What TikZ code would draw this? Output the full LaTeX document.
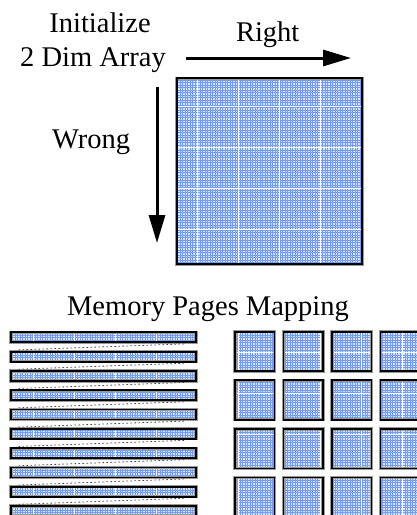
\documentclass[tikz,border=0pt]{standalone}
\usepackage{fontspec}
\newfontfamily\tnr{LiberationSerif}[Extension=.ttf, UprightFont=*-Regular]
\usetikzlibrary{arrows.meta,calc}
\definecolor{gridbg}{RGB}{212,226,252}
\definecolor{gridline}{RGB}{115,155,250}
\tikzset{
  frame/.style={draw=black, line width=1.8pt, inner sep=0pt, outer sep=0pt, anchor=north west,
    preaction={draw=black!40, line width=3.2pt}},
  finegrid/.style={gridline, line width=0.5pt},
  majorgrid/.style={white, line width=1pt},
  txt/.style={font=\tnr\fontsize{28.5}{34}\selectfont, inner sep=0pt, anchor=base},
  bigarrow/.style={line width=3pt, -{Triangle[length=28pt,width=16pt]}},
  link/.style={black!70, line width=0.8pt, dash pattern=on 1.6pt off 2.4pt}
}
% \gbox[major y step]{name}{x}{y}{w}{h}
\newcommand\gbox[6][41pt]{%
  \fill[gridbg] (#3,#4) rectangle ++(#5,#6);
  \begin{scope}
    \clip (#3,#4) rectangle ++(#5,#6);
    \draw[finegrid, step=2.5pt] (#3-3,#4-3) grid ($(#3,#4)+(#5+3,#6+3)$);
    \begin{scope}[shift={(33pt,17pt)}]
      \draw[majorgrid, xstep=41pt, ystep=#1] (#3-90,#4-90) grid ($(#3,#4)+(#5+90,#6+90)$);
    \end{scope}
  \end{scope}
  \node[frame, minimum width=#5pt, minimum height=#6pt] (#2) at (#3,#4) {};
}
\begin{document}
\begin{tikzpicture}[x=1pt,y=-1pt]
  \useasboundingbox[fill=white] (0,0) rectangle (416,515);

  % texts
  \node[txt] (init) at (100,32.3) {Initialize};
  \node[txt] (dim) at (93,66.7) {2 Dim Array};
  \node[txt] (right) at (267.7,41.7) {Right};
  \node[txt] (wrong) at (91.2,148.3) {Wrong};
  \node[txt] (mem) at (208,315) {Memory Pages Mapping};

  % arrows
  \coordinate (ra) at (186,58);
  \coordinate (rb) at (351,58);
  \coordinate (da) at (157,87);
  \coordinate (db) at (157,243);
  \draw[bigarrow] (ra) -- (rb);
  \draw[bigarrow] (da) -- (db);

  % big array
  \gbox{big}{176.7}{78.3}{185.6}{186}

  % strips
  \foreach \k in {0,...,9} {
    \gbox[1000pt]{s\k}{11}{332.3+19.3*\k}{185}{10}
  }
  \foreach \k [evaluate=\k as \n using int(\k+1)] in {0,...,8} {
    \draw[link] ($(s\k.south east)+(-12,1.6)$) -- ($(s\n.north west)+(5,-1.6)$);
  }

  % page squares
  \foreach \i in {0,...,3} {
    \foreach \j in {0,...,3} {
      \gbox{p\i\j}{235+48.5*\i}{331.7+48.6*\j}{39.5}{39.5}
    }
  }
\end{tikzpicture}
\end{document}
